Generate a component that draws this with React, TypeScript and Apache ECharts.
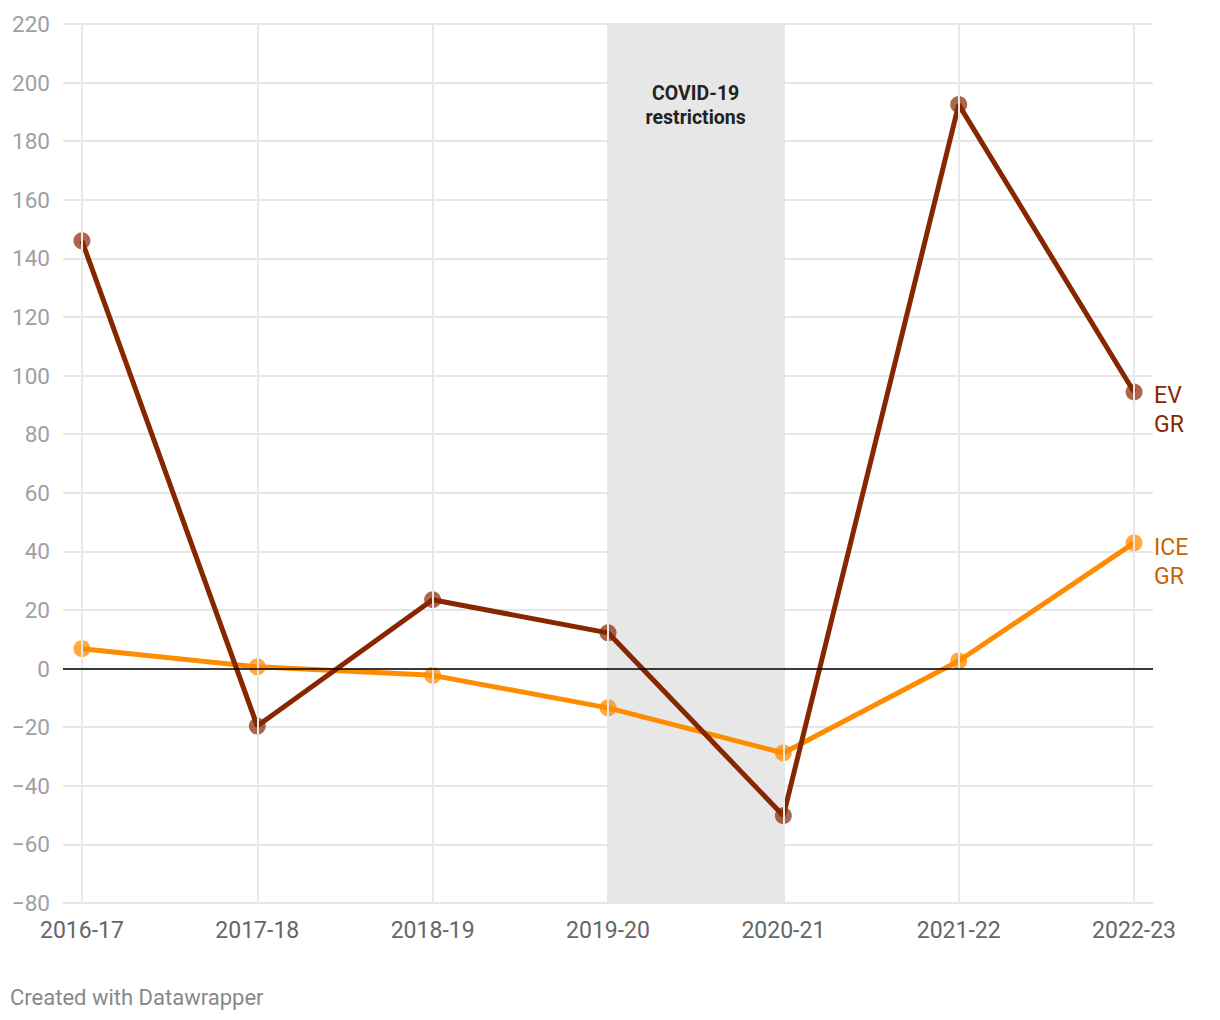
import React, { useEffect, useRef } from "react";
import * as echarts from "echarts";

const categories = ["2016-17", "2017-18", "2018-19", "2019-20", "2020-21", "2021-22", "2022-23"];
const evGrowth = [146, -19.6, 23.5, 12.2, -50.2, 192.5, 94.4];
const iceGrowth = [6.8, 0.6, -2.3, -13.4, -28.8, 2.6, 42.9];
const yTicks = [-80, -60, -40, -20, 0, 20, 40, 60, 80, 100, 120, 140, 160, 180, 200, 220];
const covidRange = [3, 4];

const EV_COLOR = "#862700";
const ICE_COLOR = "#ff8c00";
const FONT = "Roboto, 'Noto Sans', sans-serif";

export default function App() {
  const ref = useRef<HTMLDivElement>(null);
  useEffect(() => {
    if (!ref.current) return;
    const chart = echarts.init(ref.current, null, { renderer: "svg" });
    const idx = categories.map((_, i) => i);
    chart.setOption({
      animation: false,
      textStyle: { fontFamily: FONT },
      grid: { left: 55, right: 59, top: 16, bottom: 109, containLabel: false },
      xAxis: {
        type: "value",
        min: -0.108,
        max: 6.108,
        axisLine: { show: false },
        axisTick: { show: false },
        splitLine: { show: false },
        axisLabel: {
          customValues: idx,
          formatter: (v: number) => categories[Math.round(v)] ?? "",
          color: "#666666",
          fontSize: 23,
          margin: 16,
          fontFamily: FONT,
        },
      },
      yAxis: {
        type: "value",
        min: yTicks[0],
        max: yTicks[yTicks.length - 1],
        interval: 20,
        axisLine: { show: false },
        axisTick: { show: false },
        axisLabel: {
          color: "#a0a0a0",
          fontSize: 22.5,
          margin: 13,
          fontFamily: FONT,
          formatter: (v: number) => (v < 0 ? "\u2212" + Math.abs(v) : String(v)),
        },
        splitLine: { lineStyle: { color: "#e6e6e6", width: 2 } },
      },
      series: [
        {
          type: "line",
          name: "grid",
          data: [],
          silent: true,
          markArea: {
            silent: true,
            itemStyle: { color: "#e7e7e7" },
            label: {
              show: true,
              position: "insideTop",
              distance: 57,
              formatter: "COVID-19\nrestrictions",
              color: "#222222",
              fontWeight: "bold",
              fontSize: 19.5,
              lineHeight: 24,
              fontFamily: FONT,
            },
            data: [[{ xAxis: covidRange[0] }, { xAxis: covidRange[1] }]],
          },
          markLine: {
            silent: true,
            symbol: "none",
            label: { show: false },
            lineStyle: { color: "#e8e8e8", width: 2, type: "solid" },
            data: idx.map((i) => ({ xAxis: i })),
          },
        },
        {
          type: "line",
          name: "zero",
          data: [],
          silent: true,
          markLine: {
            silent: true,
            symbol: "none",
            label: { show: false },
            lineStyle: { color: "#000000", width: 1.5, type: "solid" },
            data: [{ yAxis: 0 }],
          },
        },
        {
          type: "line",
          name: "ICE GR",
          data: iceGrowth.map((v, i) => [i, v]),
          lineStyle: { color: ICE_COLOR, width: 5 },
          itemStyle: { color: ICE_COLOR, opacity: 0.75 },
          symbol: "circle",
          symbolSize: 17,
          z: 3,
          label: { show: false },
          endLabel: {
            show: true,
            formatter: "ICE\nGR",
            color: "#c86400",
            fontSize: 23,
            lineHeight: 29,
            distance: 20,
            offset: [0, 19],
            fontFamily: FONT,
          },
        },
        {
          type: "line",
          name: "EV GR",
          data: evGrowth.map((v, i) => [i, v]),
          lineStyle: { color: EV_COLOR, width: 5 },
          itemStyle: { color: EV_COLOR, opacity: 0.7 },
          symbol: "circle",
          symbolSize: 17,
          z: 4,
          endLabel: {
            show: true,
            formatter: "EV\nGR",
            color: EV_COLOR,
            fontSize: 23,
            lineHeight: 29,
            distance: 20,
            offset: [0, 18],
            fontFamily: FONT,
          },
        },
      ],
      graphic: [
        {
          type: "text",
          left: 2,
          top: 978,
          style: { text: "Created with Datawrapper", fill: "#888888", fontSize: 22, fontFamily: FONT },
        },
      ],
    });
    return () => chart.dispose();
  }, []);
  return <div ref={ref} style={{ width: 1204, height: 1004 }} />;
}
